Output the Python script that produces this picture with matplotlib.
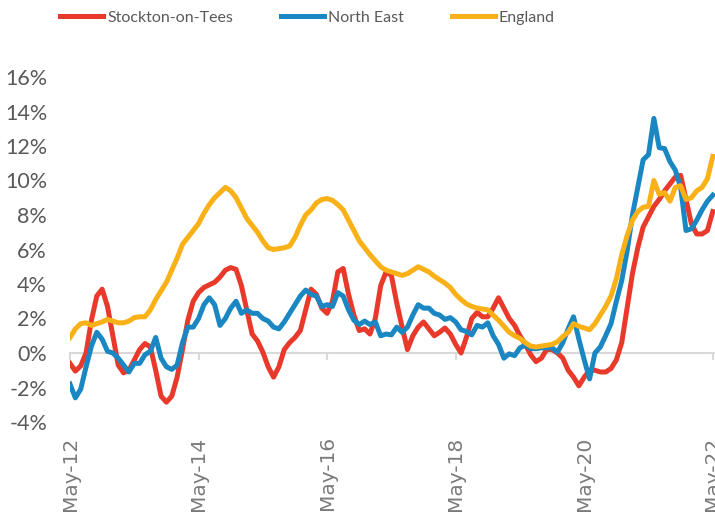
import numpy as np
import matplotlib
matplotlib.use("Agg")
import matplotlib.pyplot as plt

# monthly annual % change, May-12 .. May-22
tick_labels = ["May-12", "May-14", "May-16", "May-18", "May-20", "May-22"]
series_names = ["Stockton-on-Tees", "North East", "England"]

stockton = [
    -0.6, -1.05, -0.75, 0.0, 1.9, 3.3, 3.7, 2.7, 1.0, -0.7, -1.15, -1.0,
    -0.4, 0.2, 0.55, 0.35, -1.0, -2.5, -2.85, -2.5, -1.4, 0.2, 1.9, 3.0,
    3.5, 3.8, 3.95, 4.1, 4.4, 4.8, 4.95, 4.85, 3.9, 2.5, 1.1, 0.7,
    0.05, -0.8, -1.4, -0.8, 0.2, 0.6, 0.9, 1.3, 2.5, 3.7, 3.4, 2.6,
    2.3, 3.0, 4.7, 4.9, 3.4, 2.2, 1.3, 1.4, 1.1, 2.0, 3.9, 4.7,
    4.5, 2.9, 1.5, 0.2, 1.0, 1.5, 1.8, 1.4, 1.0, 1.2, 1.45, 1.1,
    0.5, 0.0, 0.9, 2.0, 2.35, 2.1, 2.1, 2.6, 3.2, 2.6, 2.0, 1.6,
    1.0, 0.5, -0.1, -0.5, -0.3, 0.2, 0.2, 0.0, -0.3, -1.0, -1.4, -1.9,
    -1.4, -1.0, -1.0, -1.1, -1.1, -0.9, -0.4, 0.6, 2.6, 4.6, 6.1, 7.3,
    7.9, 8.5, 8.9, 9.4, 9.8, 10.2, 10.3, 8.9, 7.5, 6.9, 6.9, 7.1,
    8.2,
]
north_east = [
    -1.8, -2.6, -2.1, -0.8, 0.4, 1.2, 0.8, 0.1, 0.0, -0.3, -0.7, -1.1,
    -0.6, -0.6, -0.1, 0.1, 0.9, -0.3, -0.8, -0.95, -0.7, 0.6, 1.5, 1.5,
    2.0, 2.8, 3.2, 2.8, 1.6, 2.0, 2.6, 3.0, 2.3, 2.5, 2.3, 2.3,
    2.0, 1.85, 1.5, 1.4, 1.8, 2.3, 2.8, 3.3, 3.65, 3.4, 3.3, 2.7,
    2.8, 2.7, 3.5, 3.3, 2.5, 1.9, 1.65, 1.85, 1.65, 1.8, 1.0, 1.1,
    1.05, 1.5, 1.2, 1.5, 2.2, 2.8, 2.6, 2.6, 2.3, 2.2, 1.95, 2.05,
    1.8, 1.35, 1.25, 1.05, 1.6, 1.5, 1.75, 1.0, 0.5, -0.3, -0.05, -0.15,
    0.3, 0.45, 0.25, 0.25, 0.3, 0.3, 0.3, 0.05, 0.6, 1.4, 2.1, 0.8,
    -0.4, -1.5, 0.0, 0.35, 1.0, 1.7, 3.0, 4.2, 5.9, 8.0, 9.6, 11.2,
    11.5, 13.6, 11.9, 11.85, 11.1, 10.6, 9.6, 7.1, 7.2, 7.7, 8.3, 8.8,
    9.15,
]
england = [
    0.9, 1.4, 1.7, 1.75, 1.6, 1.7, 1.8, 1.95, 1.85, 1.75, 1.75, 1.85,
    2.05, 2.1, 2.1, 2.5, 3.1, 3.6, 4.1, 4.8, 5.5, 6.3, 6.7, 7.1,
    7.5, 8.1, 8.6, 9.0, 9.3, 9.6, 9.4, 9.0, 8.4, 7.8, 7.4, 7.0,
    6.5, 6.1, 6.0, 6.05, 6.1, 6.2, 6.7, 7.4, 8.0, 8.3, 8.7, 8.9,
    8.95, 8.85, 8.6, 8.3, 7.7, 7.1, 6.5, 6.1, 5.7, 5.35, 5.0, 4.8,
    4.7, 4.6, 4.5, 4.6, 4.8, 5.0, 4.85, 4.7, 4.45, 4.25, 4.05, 3.8,
    3.4, 3.1, 2.85, 2.7, 2.6, 2.55, 2.5, 2.2, 1.9, 1.55, 1.2, 1.0,
    0.85, 0.6, 0.4, 0.35, 0.4, 0.45, 0.5, 0.65, 0.95, 1.2, 1.7, 1.55,
    1.45, 1.35, 1.7, 2.2, 2.7, 3.3, 4.3, 5.7, 6.8, 7.7, 8.2, 8.45,
    8.5, 10.0, 9.2, 9.3, 8.8, 9.6, 9.7, 8.9, 9.0, 9.4, 9.6, 10.1,
    11.4,
]

colors = ["#E8392B", "#1A87C2", "#FAB117"]

fig = plt.figure(figsize=(7.15, 5.13), dpi=100)
ax = fig.add_axes([70 / 715, 91 / 513, 646 / 715, 345 / 513])

x = np.arange(len(stockton))
for vals, name, c in zip([stockton, north_east, england], series_names, colors):
    ax.plot(x, vals, color=c, lw=3.6, label=name, solid_joinstyle="round")

ax.set_xlim(0, 120.6)
ax.set_ylim(-4, 16)

yt = np.arange(-4, 17, 2)
ax.set_yticks(yt)
ax.set_yticklabels([f"{v}%" for v in yt], fontfamily="Lato")
ax.tick_params(axis="y", length=0, pad=16.5, labelsize=15.5, labelcolor="#595959")

ax.set_xticks(np.arange(0, 121, 24))
ax.set_xticklabels(tick_labels, fontfamily="Liberation Sans")
ax.tick_params(axis="x", direction="out", length=5, width=1.5, color="#d9d9d9",
               pad=55, labelsize=14.5, labelcolor="#7a7a7a", labelrotation=90)

for s in ["top", "right", "left"]:
    ax.spines[s].set_visible(False)
ax.spines["bottom"].set_position(("data", 0))
ax.spines["bottom"].set_color("#d9d9d9")
ax.spines["bottom"].set_linewidth(1.5)
ax.spines["bottom"].set_zorder(0)

leg = fig.legend(loc="center left", bbox_to_anchor=(60 / 715, 1 - 18 / 513), ncol=3,
                 frameon=False, handlelength=2.7, handletextpad=0.25, columnspacing=3.0,
                 borderpad=0, borderaxespad=0,
                 prop={"family": "Lato", "size": 11.5})
for t in leg.get_texts():
    t.set_color("#595959")

fig.savefig("out.png", dpi=100)
